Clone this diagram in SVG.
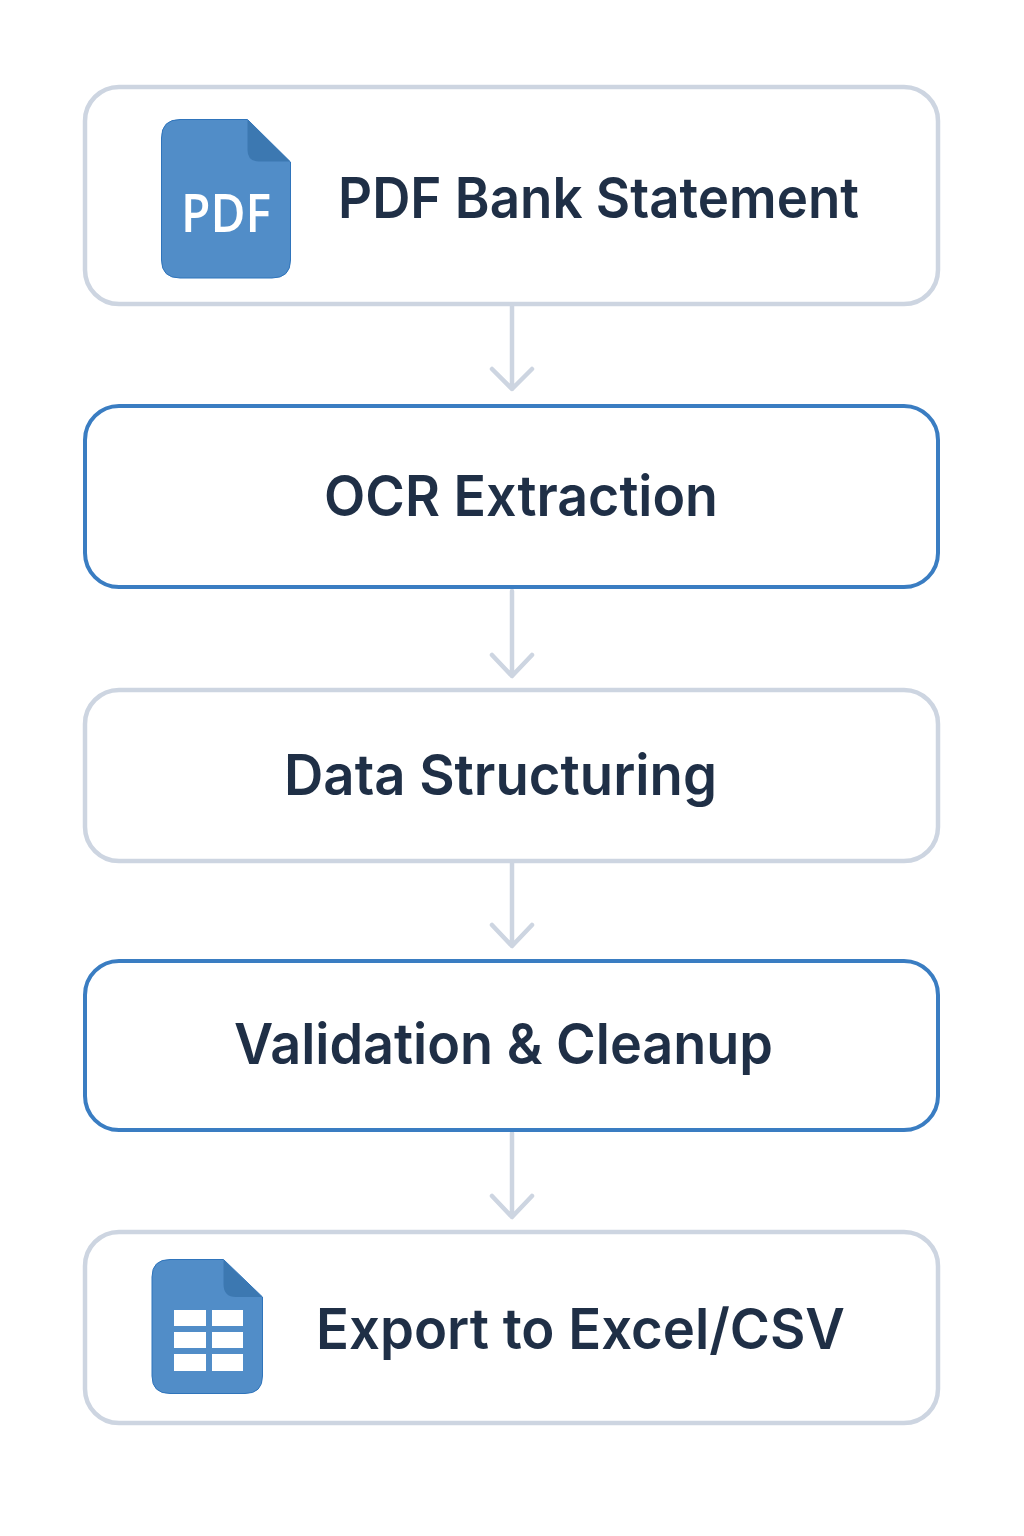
<svg xmlns="http://www.w3.org/2000/svg" width="1024" height="1536" viewBox="0 0 1024 1536">
<style>
.bg{fill:#fff}
.grey{fill:#fff;stroke:#cdd5e1;stroke-width:4.500}
.blue{fill:#fff;stroke:#3a7dc2;stroke-width:4}
.t{font-family:"Inter","Noto Sans",sans-serif;font-size:56px;font-weight:600;fill:#1f2f46;text-anchor:middle}
.doc{fill:#518dc8;stroke:#2f74bb;stroke-width:1}
.fold{fill:#3c78b1}
.cell{fill:#fff}
.c{fill:none;stroke:#cdd5e1;stroke-width:4.500;stroke-linecap:round;stroke-linejoin:round}
</style>
<rect class="bg" width="1024" height="1536"/>
<g id="connectors">
<path class="c" d="M512 306V389M492 369L512 389L532 369"/>
<path class="c" d="M512 591V676M492 655L512 676L532 655"/>
<path class="c" d="M512 863V946M492 925L512 946L532 925"/>
<path class="c" d="M512 1133V1217M492 1196L512 1217L532 1196"/>
</g>
<g id="node-pdf">
<rect class="grey" x="85" y="87" width="853" height="217" rx="34"/>
<path class="doc" d="M180 119.500H247.500L290.500 162V260Q290.500 278 272 278H180Q161.500 278 161.500 260V138Q161.500 119.500 180 119.500Z"/>
<path class="fold" d="M247.500 120L290 161.500H259Q247.500 161.500 247.500 150Z"/>
<text x="226" y="232" textLength="90" lengthAdjust="spacingAndGlyphs" style="font-family:'Open Sans','Noto Sans',sans-serif;font-size:53px;font-weight:600;fill:#fff;text-anchor:middle">PDF</text>
<text class="t" x="598.500" y="218" textLength="521" lengthAdjust="spacingAndGlyphs">PDF Bank Statement</text>
</g>
<g id="node-ocr">
<rect class="blue" x="85" y="406" width="853" height="181" rx="34"/>
<text class="t" x="521" y="516" textLength="394" lengthAdjust="spacingAndGlyphs">OCR Extraction</text>
</g>
<g id="node-structuring">
<rect class="grey" x="85" y="690" width="853" height="171" rx="34"/>
<text class="t" x="500.500" y="795" textLength="433" lengthAdjust="spacingAndGlyphs">Data Structuring</text>
</g>
<g id="node-validation">
<rect class="blue" x="85" y="961" width="853" height="169" rx="34"/>
<text class="t" x="503.500" y="1064" textLength="539" lengthAdjust="spacingAndGlyphs">Validation &amp; Cleanup</text>
</g>
<g id="node-export">
<rect class="grey" x="85" y="1232" width="853" height="191" rx="34"/>
<path class="doc" d="M170 1259.500H223.500L262.500 1297V1376Q262.500 1393.500 245 1393.500H170Q152 1393.500 152 1376V1277Q152 1259.500 170 1259.500Z"/>
<path class="fold" d="M223.500 1260L262 1297H236Q223.500 1297 223.500 1284Z"/>
<rect class="cell" x="174" y="1310" width="32" height="16"/>
<rect class="cell" x="212" y="1310" width="31" height="16"/>
<rect class="cell" x="174" y="1332" width="32" height="16"/>
<rect class="cell" x="212" y="1332" width="31" height="16"/>
<rect class="cell" x="174" y="1354" width="32" height="17"/>
<rect class="cell" x="212" y="1354" width="31" height="17"/>
<text class="t" x="580.500" y="1349" textLength="529" lengthAdjust="spacingAndGlyphs">Export to Excel/CSV</text>
</g>
</svg>
